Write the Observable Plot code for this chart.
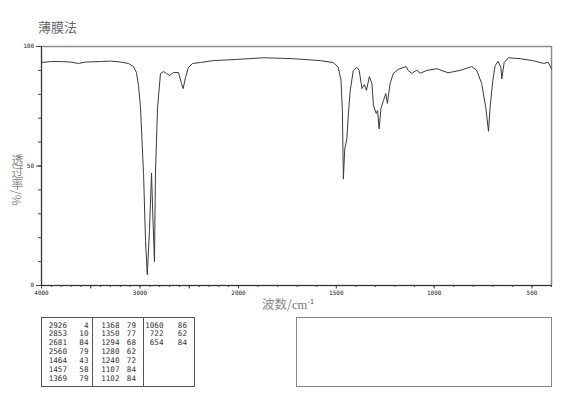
<!DOCTYPE html>
<html><head><meta charset="utf-8">
<script src="https://cdn.jsdelivr.net/npm/d3@7"></script>
<script src="https://cdn.jsdelivr.net/npm/@observablehq/plot@0.6"></script>
<style>
body{margin:0;background:#fff;width:570px;height:402px;position:relative;overflow:hidden}
#chart{position:absolute;left:0;top:0}
.lbl{position:absolute;font-family:"Noto Sans CJK SC",sans-serif;color:#8a8a8a;white-space:nowrap}
#title{left:38px;top:19px;font-size:13px;line-height:15px;color:#666}
#ylab{left:10px;top:154px;font-size:12px;writing-mode:vertical-rl;line-height:14px}
#xlab{left:262px;top:295px;font-size:12.5px;line-height:15px}
#xlab .cm{font-family:"Liberation Serif",serif;color:#777}
#xlab sup{font-size:7px;vertical-align:5px;font-family:"DejaVu Sans",sans-serif;color:#555}
.box{position:absolute;box-sizing:border-box}
#tbl{left:41px;top:317px;width:154px;height:70px;border:1px solid #555;border-right-width:1.5px;border-bottom-width:1.5px}
#empty{left:296px;top:317px;width:256px;height:70px;border:1.5px solid #888}
.div{position:absolute;top:317px;width:1px;height:70px;background:#555}
.cell{position:absolute;font-family:"DejaVu Sans Mono",monospace;font-size:7.6px;line-height:9px;color:#333;text-align:right}
</style></head><body>
<div id="chart"></div>
<div id="title" class="lbl">薄膜法</div>
<div id="ylab" class="lbl">透过率/%</div>
<div id="xlab" class="lbl">波数/<span class="cm">cm</span><sup>-1</sup></div>
<div id="tbl" class="box"></div>
<div id="empty" class="box"></div>
<div id="cells"></div>
<script>
// Spectrum (wavenumber cm-1, transmittance %)
const wavenumber = [4000,3909,3807,3706,3624,3553,3401,3300,3198,3117,3066,3036,3015,2995,2964,2944,2926,2904,2883,2868,2853,2843,2822,2792,2761,2731,2701,2660,2609,2579,2562,2538,2508,2467,2386,2254,2010,1872,1719,1582,1516,1490,1476,1469,1464,1457,1446,1439,1429,1413,1395,1383,1369,1357,1346,1331,1318,1310,1296,1289,1281,1272,1259,1247,1239,1225,1209,1184,1143,1133,1114,1102,1088,1071,1037,986,929,867,808,782,757,736,722,714,700,688,673,659,654,642,620,560,496,439,417,400];
const transmittance = [93.3,93.7,93.7,93.5,92.9,93.5,93.7,93.9,93.5,92.9,91.6,89.1,83.7,74.5,46.9,18.8,4.5,23,47,27,10,47,74.5,88.7,89.5,88.7,87.9,89.1,89.1,84.5,82.4,87,91.2,92.9,93.3,94.1,94.6,95.3,94.9,94.1,93.3,91.3,85.8,73.2,44.5,57,61.5,71,81.6,90,91.3,90,82.4,84.1,81.6,87.4,84.5,75.3,72,73.2,65.5,74,77.4,80.3,76.2,84.5,88.7,90.4,91.6,90,88.7,89.5,90,88.8,90,90.7,89,90,91.6,90,84.5,74.5,64.5,74.5,85.8,92,93.8,91.3,86.5,93.3,95.3,94.9,94.1,92.9,93.4,90.7];

// Axis ticks
const xTickLabels = [4000,3000,2000,1500,1000,500];
const xMidTicks = [3500,2500];
const xMinorTicks = d3.range(4000, 399, -100);
const yTickLabels = [0,50,100];
const yMinorTicks = d3.range(0, 101, 10);

// Peak table
const peakWn = [2926,2853,2681,2560,1464,1457,1369,1368,1350,1294,1280,1240,1107,1102,1060,722,654];
const peakT  = [4,10,84,79,43,58,79,79,77,68,62,72,84,84,86,62,84];

const data = wavenumber.map((w, i) => ({w, t: transmittance[i]}));
const blank = () => "";

const chart = Plot.plot({
  width: 570, height: 310,
  marginLeft: 41, marginRight: 19, marginTop: 46, marginBottom: 25,
  x: {type: "linear", domain: [4000, 2000, 400], range: [41, 238, 551]},
  y: {domain: [0, 100], range: [285, 46]},
  style: {fontFamily: "DejaVu Sans Mono, monospace", fontSize: "6px", color: "#222", background: "transparent"},
  marks: [
    Plot.frame({stroke: "#8c8c8c", strokeWidth: 1.5}),
    Plot.axisX(xMinorTicks, {tickSize: 2, tickFormat: blank, label: null, stroke: "#444"}),
    Plot.axisX(xMidTicks, {tickSize: 3.5, tickFormat: blank, label: null, stroke: "#444"}),
    Plot.axisX(xTickLabels, {tickSize: 3.5, tickPadding: 2, tickFormat: d => String(d), label: null, stroke: "#444"}),
    Plot.axisY(yMinorTicks, {tickSize: 3, tickFormat: blank, label: null, stroke: "#444"}),
    Plot.axisY(yTickLabels, {tickSize: 5, tickPadding: 2.5, tickFormat: d => String(d), label: null, stroke: "#444"}),
    Plot.ruleX([4000], {stroke: "#333"}),
    Plot.ruleY([0], {stroke: "#333"}),
    Plot.line(data, {x: "w", y: "t", stroke: "#3a3a3a", strokeWidth: 1})
  ]
});
document.getElementById("chart").appendChild(chart);

// Table cells
const cells = document.getElementById("cells");
[92, 143].forEach(x => {
  const d = document.createElement("div");
  d.className = "div"; d.style.left = x + "px"; cells.appendChild(d);
});
const colWnRight = [67, 119.5, 163.5];
const colTRight = [88.5, 136, 187];
peakWn.forEach((w, i) => {
  const col = Math.floor(i / 7), row = i % 7;
  const top = 320.5 + row * 8.9;
  const a = document.createElement("div");
  a.className = "cell"; a.textContent = w;
  a.style.right = (570 - colWnRight[col]) + "px"; a.style.top = top + "px";
  const b = document.createElement("div");
  b.className = "cell"; b.textContent = peakT[i];
  b.style.right = (570 - colTRight[col]) + "px"; b.style.top = top + "px";
  cells.appendChild(a); cells.appendChild(b);
});
</script>
</body></html>
